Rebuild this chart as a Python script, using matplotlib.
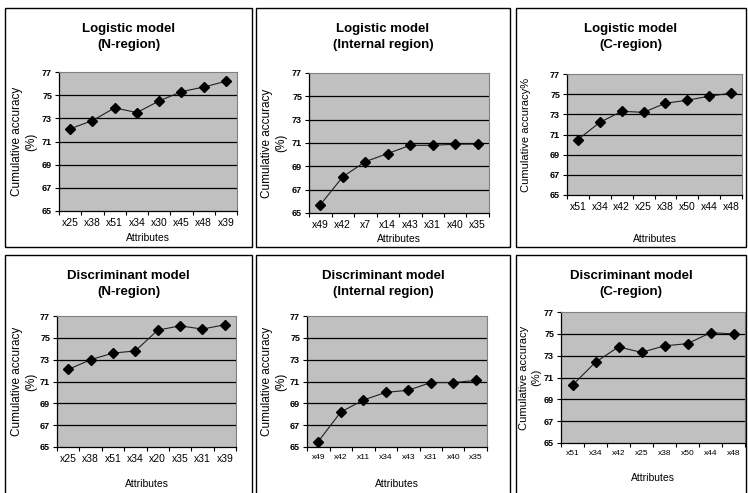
import matplotlib
matplotlib.use("Agg")
import matplotlib.pyplot as plt
from matplotlib.patches import Rectangle

plt.rcParams['font.family'] = ['Liberation Sans', 'DejaVu Sans']

W, H = 748, 493

# category labels per panel
attrs_log_n = ["x25", "x38", "x51", "x34", "x30", "x45", "x48", "x39"]
attrs_log_int = ["x49", "x42", "x7", "x14", "x43", "x31", "x40", "x35"]
attrs_log_c = ["x51", "x34", "x42", "x25", "x38", "x50", "x44", "x48"]
attrs_dis_n = ["x25", "x38", "x51", "x34", "x20", "x35", "x31", "x39"]
attrs_dis_int = ["x49", "x42", "x11", "x34", "x43", "x31", "x40", "x35"]
attrs_dis_c = ["x51", "x34", "x42", "x25", "x38", "x50", "x44", "x48"]

# cumulative accuracy (%)
acc_log_n = [72.1, 72.8, 73.9, 73.5, 74.5, 75.3, 75.7, 76.2]
acc_log_int = [65.7, 68.1, 69.4, 70.1, 70.8, 70.8, 70.9, 70.9]
acc_log_c = [70.5, 72.2, 73.3, 73.2, 74.1, 74.4, 74.8, 75.1]
acc_dis_n = [72.1, 73.0, 73.6, 73.8, 75.7, 76.1, 75.8, 76.2]
acc_dis_int = [65.5, 68.2, 69.3, 70.0, 70.2, 70.9, 70.9, 71.1]
acc_dis_c = [70.3, 72.4, 73.8, 73.3, 73.9, 74.1, 75.1, 75.0]

y_ticks = [65, 67, 69, 71, 73, 75, 77]


def px_rect(x0, y0, x1, y1):
    return [x0 / W, 1 - y1 / H, (x1 - x0) / W, (y1 - y0) / H]


def draw_panel(fig, box, ax_px, title, ylabel, cats, vals, ylab_x, xtick_size, xlab_y, ylab_size=8.5):
    bx = px_rect(*box)
    fig.add_artist(Rectangle((bx[0], bx[1]), bx[2], bx[3], transform=fig.transFigure,
                             facecolor='none', edgecolor='black', linewidth=1.0))
    cx = (box[0] + box[2]) / 2 / W
    fig.text(cx, 1 - (box[1] + 29) / H, title, ha='center', va='center',
             fontsize=9.5, fontweight='bold', linespacing=1.45)

    ax = fig.add_axes(px_rect(*ax_px))
    ax.set_facecolor('#c0c0c0')
    x = list(range(len(cats)))
    ax.plot(x, vals, color='#202020', linewidth=0.8, marker='D', markersize=5,
            markerfacecolor='black', markeredgecolor='black', zorder=3)
    ax.set_xlim(-0.5, len(cats) - 0.5)
    ax.set_ylim(65, 77)
    ax.set_yticks(y_ticks)
    ax.set_yticklabels([str(t) for t in y_ticks], fontsize=6.5, fontweight='bold')
    for t in y_ticks[1:-1]:
        ax.axhline(t, color='black', linewidth=0.9, zorder=1)

    ax.set_xticks([i - 0.5 for i in range(len(cats) + 1)])
    ax.set_xticklabels([])
    ax.set_xticks(x, minor=True)
    ax.set_xticklabels(cats, minor=True, fontsize=xtick_size)
    ax.tick_params(axis='x', which='minor', length=0, pad=5)
    ax.tick_params(axis='x', which='major', length=3, width=0.8, direction='out')
    ax.tick_params(axis='y', length=3, width=0.8, pad=2)

    for s in ['top', 'right']:
        ax.spines[s].set_color('#808080')
        ax.spines[s].set_linewidth(0.8)
    for s in ['left', 'bottom']:
        ax.spines[s].set_color('black')
        ax.spines[s].set_linewidth(0.9)

    fig.text((ax_px[0] + ax_px[2]) / 2 / W, 1 - xlab_y / H, "Attributes",
             ha='center', va='center', fontsize=7.5)

    fig.text(ylab_x / W, 1 - (ax_px[1] + ax_px[3]) / 2 / H, ylabel, ha='center', va='center',
             rotation=90, fontsize=ylab_size, linespacing=1.2)
    return ax


fig = plt.figure(figsize=(W / 100, H / 100), dpi=100)

draw_panel(fig, (5, 8, 252, 247), (59, 72, 237, 211), "Logistic model\n(N-region)",
           "Cumulative accuracy\n(%)", attrs_log_n, acc_log_n, 24, 7.5, 238)
draw_panel(fig, (256, 8, 510, 247), (309, 73, 489, 213), "Logistic model\n(Internal region)",
           "Cumulative accuracy\n(%)", attrs_log_int, acc_log_int, 274, 7.5, 239)
draw_panel(fig, (516, 8, 746, 247), (567, 74, 742, 195), "Logistic model\n(C-region)",
           "Cumulative accuracy%", attrs_log_c, acc_log_c, 526, 7.5, 239, 8)

draw_panel(fig, (5, 255, 252, 496), (57, 316, 236, 447), "Discriminant model\n(N-region)",
           "Cumulative accuracy\n(%)", attrs_dis_n, acc_dis_n, 24, 7.5, 484)
draw_panel(fig, (256, 255, 510, 496), (307, 316, 487, 447), "Discriminant model\n(Internal region)",
           "Cumulative accuracy\n(%)", attrs_dis_int, acc_dis_int, 274, 6, 484)
draw_panel(fig, (516, 255, 746, 496), (561, 312, 745, 443), "Discriminant model\n(C-region)",
           "Cumulative accuracy\n(%)", attrs_dis_c, acc_dis_c, 530, 6, 478, 8)

fig.savefig("out.png", dpi=100)
